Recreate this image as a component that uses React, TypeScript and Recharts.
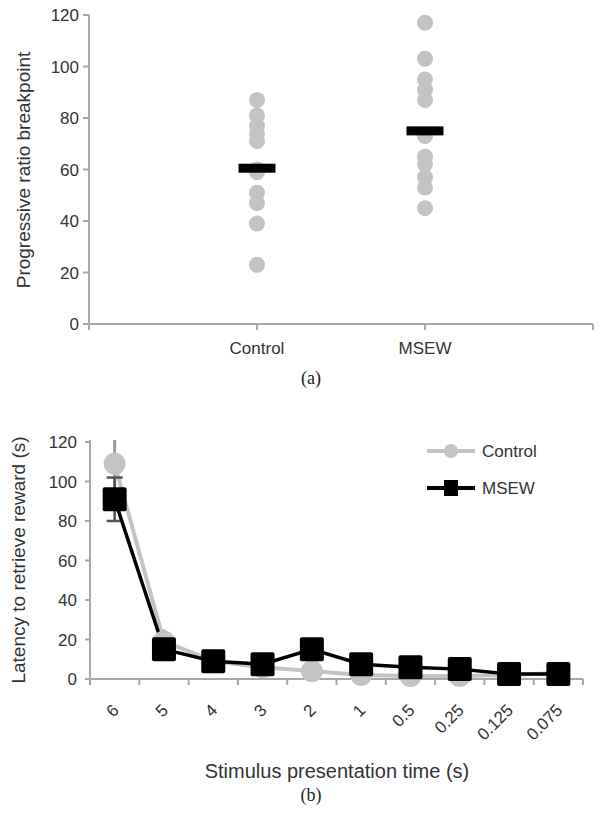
import React from 'react';
import { ScatterChart, Scatter, XAxis, YAxis, ComposedChart, Line, ErrorBar } from 'recharts';

// ---------- Panel (a) data ----------
const groupNames = ['Control', 'MSEW'];
const controlBreakpoints = [87, 81, 77, 74, 71, 60, 59, 51, 47, 39, 23];
const msewBreakpoints = [117, 103, 95, 91, 87, 73, 65, 62, 57, 53, 45];
const groupMeans = [60.5, 75];
const breakpointTicks = [0, 20, 40, 60, 80, 100, 120];
const groupPositions = [0, 1, 2, 3];

// ---------- Panel (b) data ----------
const timeLabels = ['6', '5', '4', '3', '2', '1', '0.5', '0.25', '0.125', '0.075'];
const controlLatency = [109, 19, 9, 6, 4, 2, 1.5, 1.5, 2, 3];
const controlSem = [12, 6, 2, 2, 2, 1, 1, 1, 1, 1];
const msewLatency = [91, 15, 9, 7.5, 15, 7.5, 6, 5, 2.5, 2.5];
const msewSem = [11, 4, 2, 2, 3, 2, 2, 1, 1, 1];
const latencyTicks = [0, 20, 40, 60, 80, 100, 120];
const seriesNames = ['Control', 'MSEW'];

const FONT = '"Liberation Sans", Arial, Helvetica, sans-serif';
const AXIS = '#a8a8a8';
const TEXT = '#333333';
const GRAY = '#c3c3c3';

const controlData = controlBreakpoints.map((v) => ({ x: 1, y: v }));
const msewData = msewBreakpoints.map((v) => ({ x: 2, y: v }));
const meanData = groupMeans.map((m, i) => ({ x: i + 1, y: m }));

const latencyData = timeLabels.map((t, i) => ({
  pos: i + 0.5,
  label: t,
  control: controlLatency[i],
  cErr: controlSem[i],
  msew: msewLatency[i],
  mErr: msewSem[i],
}));
const timeTicks: number[] = [];
for (let i = 0; i <= timeLabels.length * 2; i++) timeTicks.push(i / 2);

const DotShape = (p: any) => <circle cx={p.cx} cy={p.cy} r={8} fill={GRAY} />;
const MeanShape = (p: any) => <rect x={p.cx - 18.5} y={p.cy - 4.5} width={37} height={9} fill="#000" />;

const TimeTick = (p: any) => {
  const { x, y, payload } = p;
  const v = payload.value as number;
  if (Number.isInteger(v)) {
    return <line x1={x} y1={y} x2={x} y2={y + 6} stroke={AXIS} strokeWidth={2} />;
  }
  const label = timeLabels[Math.floor(v)];
  const ax = x + 1;
  const ay = y + 28;
  return (
    <text
      x={ax}
      y={ay}
      dy="0.35em"
      textAnchor="end"
      fontSize={17}
      fill={TEXT}
      fontFamily={FONT}
      transform={`rotate(-45, ${ax}, ${ay})`}
    >
      {label}
    </text>
  );
};

export default function App() {
  return (
    <div style={{ position: 'absolute', left: 0, top: 0, width: 602, height: 813, background: '#fff', fontFamily: FONT }}>
      <div style={{ position: 'absolute', left: 0, top: 0 }}>
        <ScatterChart width={602} height={370} margin={{ top: 15, right: 9, left: 29, bottom: 6 }}>
          <XAxis
            type="number"
            dataKey="x"
            domain={[0, 3]}
            ticks={groupPositions}
            interval={0}
            tickFormatter={(v: number) => (v >= 1 && v <= groupNames.length ? groupNames[v - 1] : '')}
            height={40}
            tickSize={6}
            tickMargin={12}
            stroke={AXIS}
            strokeWidth={2}
            tick={{ fill: TEXT, fontSize: 17, fontFamily: FONT }}
          />
          <YAxis
            type="number"
            dataKey="y"
            domain={[0, 120]}
            ticks={breakpointTicks}
            interval={0}
            width={60}
            tickSize={6}
            tickMargin={4}
            stroke={AXIS}
            strokeWidth={2}
            tick={{ fill: TEXT, fontSize: 17, fontFamily: FONT }}
          />
          <Scatter data={controlData} shape={DotShape} isAnimationActive={false} />
          <Scatter data={msewData} shape={DotShape} isAnimationActive={false} />
          <Scatter data={meanData} shape={MeanShape} isAnimationActive={false} />
        </ScatterChart>
      </div>

      <div style={{ position: 'absolute', left: 0, top: 410 }}>
        <ComposedChart width={602} height={403} data={latencyData} margin={{ top: 30, right: 19, left: 30, bottom: 74 }}>
          <XAxis
            type="number"
            dataKey="pos"
            domain={[0, timeLabels.length]}
            ticks={timeTicks}
            interval={0}
            height={60}
            tickSize={0}
            tickMargin={0}
            tickLine={false}
            stroke={AXIS}
            strokeWidth={2}
            tick={<TimeTick />}
          />
          <YAxis
            type="number"
            domain={[0, 120]}
            ticks={latencyTicks}
            interval={0}
            width={60}
            tickSize={5}
            tickMargin={8}
            stroke={AXIS}
            strokeWidth={2}
            tick={{ fill: TEXT, fontSize: 17, fontFamily: FONT }}
          />
          <Line
            dataKey="control"
            stroke={GRAY}
            strokeWidth={4}
            isAnimationActive={false}
            dot={(p: any) => <circle key={`c${p.index}`} cx={p.cx} cy={p.cy} r={11} fill={GRAY} />}
          >
            <ErrorBar dataKey="cErr" width={0} stroke="#9a9a9a" strokeWidth={3} direction="y" />
          </Line>
          <Line
            dataKey="msew"
            stroke="#000"
            strokeWidth={3.5}
            isAnimationActive={false}
            dot={(p: any) => <rect key={`m${p.index}`} x={p.cx - 12} y={p.cy - 12} width={24} height={24} rx={2} fill="#000" />}
          >
            <ErrorBar dataKey="mErr" width={8} stroke="#555" strokeWidth={2.5} direction="y" />
          </Line>
        </ComposedChart>
      </div>

      <svg width={602} height={813} style={{ position: 'absolute', left: 0, top: 0, pointerEvents: 'none' }} fontFamily={FONT}>
        <text transform="translate(30,170) rotate(-90)" textAnchor="middle" fontSize={19} fill={TEXT}>
          Progressive ratio breakpoint
        </text>
        <text x={311} y={384} textAnchor="middle" fontSize={18} fontFamily="'Liberation Serif', 'Times New Roman', serif" fill="#222">
          (a)
        </text>

        <text transform="translate(25,560) rotate(-90)" textAnchor="middle" fontSize={19} fill={TEXT}>
          Latency to retrieve reward (s)
        </text>
        <text x={337} y={778} textAnchor="middle" fontSize={20} fill={TEXT}>
          Stimulus presentation time (s)
        </text>
        <text x={311} y={801} textAnchor="middle" fontSize={18} fontFamily="'Liberation Serif', 'Times New Roman', serif" fill="#222">
          (b)
        </text>

        <line x1={427} y1={451} x2={475} y2={451} stroke={GRAY} strokeWidth={4} />
        <circle cx={451} cy={451} r={7} fill={GRAY} />
        <text x={482} y={451} dy="0.35em" fontSize={17} fill={TEXT}>
          {seriesNames[0]}
        </text>
        <line x1={427} y1={488} x2={475} y2={488} stroke="#000" strokeWidth={4} />
        <rect x={444} y={480} width={14} height={16} fill="#000" />
        <text x={482} y={488} dy="0.35em" fontSize={17} fill={TEXT}>
          {seriesNames[1]}
        </text>
      </svg>
    </div>
  );
}
